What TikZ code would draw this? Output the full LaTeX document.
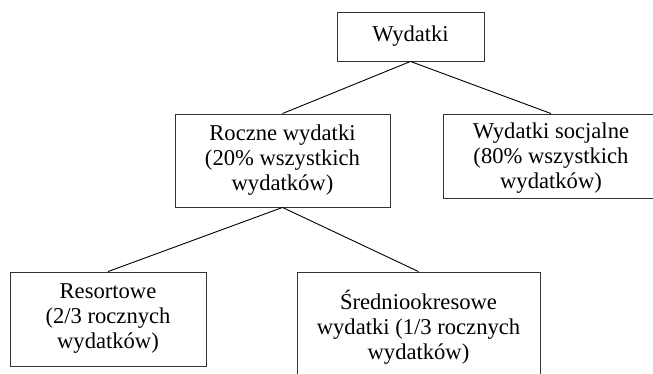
\documentclass[tikz,border=0pt]{standalone}
\usepackage{fontspec}
\setmainfont{Liberation Serif}

\begin{document}
\begin{tikzpicture}[x=1pt, y=-1pt,
    box/.style={draw=black!80, line width=0.9pt, align=center, inner sep=0pt,
      font=\fontsize{22.6}{25}\selectfont},
    link/.style={line width=0.9pt}]
  % kadr jak w oryginale (prawa i dolna krawedz przyciete)
  \useasboundingbox (0,0) rectangle (653,373);
  \clip (0,0) rectangle (653,373);
  % poziom 0
  \node[box, minimum width=147pt, minimum height=49pt] (wyd) at (410.5,36.5) {Wydatki};
  % poziom 1
  \node[box, minimum width=215pt, minimum height=93pt] (roczne) at (282.5,160.5)
    {Roczne wydatki\\(20\% wszystkich\\wydatków)};
  \node[box, minimum width=216pt, minimum height=84pt] (socjalne) at (551,156)
    {\rule{0pt}{20pt}Wydatki socjalne\\(80\% wszystkich\\wydatków)};
  % poziom 2
  \node[box, minimum width=196pt, minimum height=94pt] (resort) at (108,319)
    {Resortowe\\(2/3 rocznych\\wydatków)};
  \node[box, minimum width=243pt, minimum height=110pt] (srednio) at (418.5,327)
    {Średniookresowe\\wydatki (1/3 rocznych\\wydatków)};
  % polaczenia
  \draw[link] (wyd.south) -- (roczne.north);
  \draw[link] (wyd.south) -- (socjalne.north);
  \draw[link] (roczne.south) -- (resort.north);
  \draw[link] (roczne.south) -- (srednio.north);
\end{tikzpicture}
\end{document}
